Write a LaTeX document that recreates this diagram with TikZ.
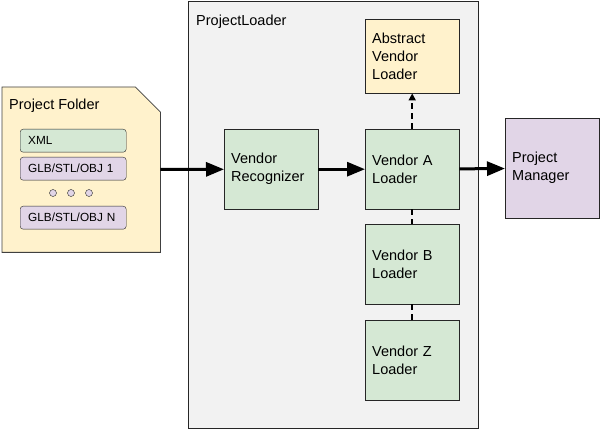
\documentclass[tikz,border=0pt]{standalone}
\usepackage{fontspec}
\setmainfont{Liberation Sans}
\usetikzlibrary{arrows.meta}
\definecolor{boxgreen}{HTML}{D5E8D4}
\definecolor{boxpurple}{HTML}{E1D5E7}
\definecolor{boxyellow}{HTML}{FFF2CC}
\definecolor{panelgray}{HTML}{F2F2F2}

\begin{document}
\begin{tikzpicture}[x=1pt, y=-1pt,
  loader/.style={draw=black!85, fill=boxgreen, anchor=north west, minimum width=94pt, minimum height=80pt, text width=80pt, align=left, inner xsep=7pt, font=\fontsize{14.5}{18}\selectfont},
  file/.style={draw=black!85, rounded corners=3pt, anchor=north west, minimum width=106pt, minimum height=23pt, text width=90pt, align=left, inner xsep=8pt, font=\fontsize{11.8}{13}\selectfont},
  dot/.style={circle, draw=black!85, fill=boxpurple, minimum size=7pt, inner sep=0pt},
  label/.style={anchor=west, inner sep=0pt, font=\fontsize{14.5}{18}\selectfont},
  flow/.style={line width=3pt, -{Triangle[length=18pt,width=14pt]}},
  link/.style={line width=1.5pt, dash pattern=on 6pt off 4pt}]
\useasboundingbox (0,0) rectangle (600,430);

% loader panel
\node[draw=black!85, fill=panelgray, anchor=north west, minimum width=290pt, minimum height=427pt] (panel) at (188,1) {};
\node[label] (paneltitle) at (196,22) {ProjectLoader};

% project folder
\node[anchor=north west, minimum width=158pt, minimum height=165pt, inner sep=0pt] (folder) at (2,87) {};
\draw[draw=black!75, fill=boxyellow, line width=0.8pt] (folder.north west) -- ([xshift=-25pt]folder.north east) -- ([yshift=-25pt]folder.north east) -- (folder.south east) -- (folder.south west) -- cycle;
\node[label] (foldertitle) at (9,106) {Project Folder};
\node[file, fill=boxgreen] (xml) at (20,129) {XML};
\node[file, fill=boxpurple] (mesh1) at (20,157) {GLB/STL/OBJ 1};
\node[dot] (dot1) at (53,193) {};
\node[dot] (dot2) at (71,193) {};
\node[dot] (dot3) at (89,193) {};
\node[file, fill=boxpurple] (meshn) at (20,206) {GLB/STL/OBJ N};

% loaders
\node[loader] (recognizer) at (224,129) {Vendor\\Recognizer};
\node[loader, fill=boxyellow, minimum height=74pt] (abstract) at (365,19) {Abstract\\Vendor\\Loader};
\node[loader] (vendora) at (365,129) {Vendor A\\Loader};
\node[loader] (vendorb) at (365,224) {Vendor B\\Loader};
\node[loader] (vendorz) at (365,320) {Vendor Z\\Loader};
\node[loader, fill=boxpurple, minimum height=100pt] (manager) at (505,118) {Project\\Manager};

% connectors
\draw[flow] (folder) -- (recognizer);
\draw[flow] (recognizer) -- (vendora);
\draw[flow] (vendora) -- (manager);
\draw[link, -{Triangle[length=7pt,width=7pt]}] (vendora) -- (abstract);
\draw[link] (vendora) -- (vendorb);
\draw[link] (vendorb) -- (vendorz);
\end{tikzpicture}
\end{document}
